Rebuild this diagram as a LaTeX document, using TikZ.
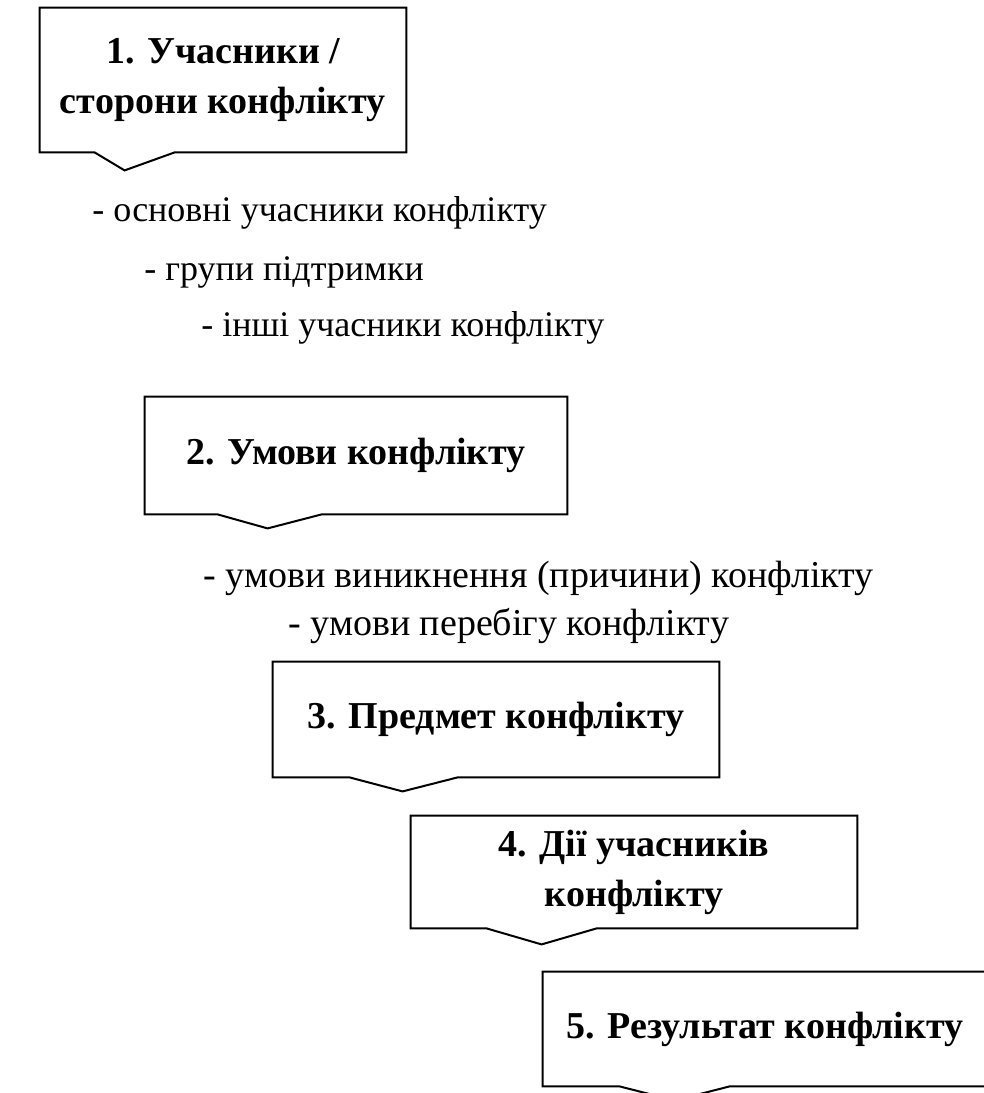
\documentclass[tikz,border=0pt]{standalone}
\usepackage{fontspec}
\setmainfont{Liberation Serif}
\usetikzlibrary{calc,positioning}
\tikzset{
  stage/.style = {shape=rectangle, align=center, inner sep=0pt,
                  font=\fontsize{19}{25}\selectfont\bfseries},
  item/.style  = {anchor=west, inner sep=0pt,
                  font=\fontsize{19}{23}\selectfont},
  frame/.style = {draw, line width=1pt, line join=miter}
}
% outline of a stage box with the notch on its bottom side
\newcommand{\notchbox}[4]{%
  \draw [frame] (#1.south west) -- (#1.north west) -- (#1.north east)
    -- (#1.south east) -- ($(#1.south west)+(#4,0)$)
    -- ($(#1.south west)+(#3)$) -- ($(#1.south west)+(#2,0)$) -- cycle;
}
\begin{document}
\begin{tikzpicture}[x=0.5pt,y=-0.5pt]
\useasboundingbox (0,0) rectangle (984,1093);

\node [stage, minimum width=183pt, minimum height=72pt] (s1) at (223,80)
  {1. Учасники /\\сторони конфлікту};
\notchbox{s1}{55}{85,18}{135}

\node [item, font=\fontsize{18}{22}\selectfont] (p1) at (92,213)
  {- основні учасники конфлікту};
\node [item, font=\fontsize{18}{22}\selectfont] (p2) at (144,272)
  {- групи підтримки};
\node [item, font=\fontsize{18}{22}\selectfont] (p3) at (201,328)
  {- інші учасники конфлікту};

\node [stage, minimum width=211pt, minimum height=58.5pt] (s2) at (356,455.5)
  {2. Умови конфлікту};
\notchbox{s2}{73}{123,14}{177}

\node [item] (c1) at (203,578) {- умови виникнення (причини) конфлікту};
\node [item] (c2) at (288,626) {- умови перебігу конфлікту};

\node [stage, minimum width=223pt, minimum height=57.5pt] (s3) at (496,719.5)
  {3. Предмет конфлікту};
\notchbox{s3}{77}{130,14}{185}

\node [stage, minimum width=223pt, minimum height=56pt] (s4) at (634,872)
  {4. Дії учасників\\конфлікту};
\notchbox{s4}{76}{131,16}{186}

\node [stage, minimum width=222pt, minimum height=57pt] (s5) at (765,1029)
  {5. Результат конфлікту};
\notchbox{s5}{77}{132,14}{187}
\end{tikzpicture}
\end{document}
